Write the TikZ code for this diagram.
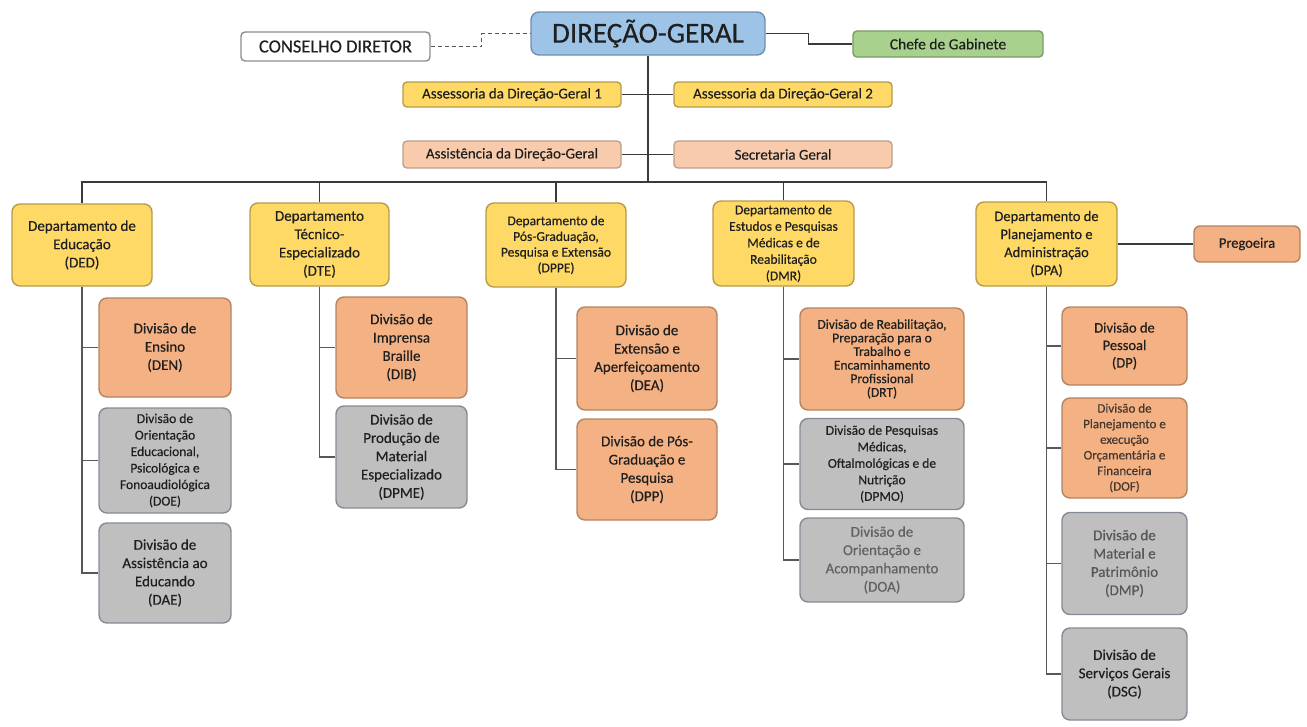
\documentclass[tikz,border=0pt]{standalone}
\usepackage{fontspec}
\setmainfont{Carlito}[FakeBold=0.35]
\definecolor{txt}{HTML}{1F1F1F}
\definecolor{ln}{HTML}{3A3A3A}
\definecolor{bluef}{HTML}{9DC3E6}\definecolor{blued}{HTML}{6F8FB0}
\definecolor{yelf}{HTML}{FFD966}\definecolor{yeld}{HTML}{B59B4A}
\definecolor{peaf}{HTML}{F8CBAD}\definecolor{pead}{HTML}{BE9F8C}
\definecolor{oraf}{HTML}{F4B183}\definecolor{orad}{HTML}{B38463}
\definecolor{grayf}{HTML}{BFBFBF}\definecolor{grayd}{HTML}{858B96}
\definecolor{grnf}{HTML}{A9D18E}\definecolor{grnd}{HTML}{789A63}
\definecolor{whd}{HTML}{8C8C8C}
\tikzset{
  box/.style={draw, rounded corners=8pt, line width=1.4pt, align=center, inner sep=1pt, text=txt},
  wh/.style 2 args={minimum width=#1pt, minimum height=#2pt},
  bluebox/.style={box, fill=bluef, draw=blued},
  yelbox/.style={box, fill=yelf, draw=yeld},
  peabox/.style={box, fill=peaf, draw=pead},
  orabox/.style={box, fill=oraf, draw=orad},
  graybox/.style={box, fill=grayf, draw=grayd},
  grnbox/.style={box, fill=grnf, draw=grnd, rounded corners=4pt},
  whbox/.style={box, fill=white, draw=whd, rounded corners=4pt},
  conn/.style={draw=ln, line width=1.3pt},
  fbig/.style={font=\fontsize{15}{18.3}\selectfont},
  fmid/.style={font=\fontsize{13.5}{16.5}\selectfont},
  fsml/.style={font=\fontsize{13.5}{13.6}\selectfont},
  fdof/.style={font=\fontsize{13}{15.6}\selectfont},
  fone/.style={font=\fontsize{15}{16}\selectfont},
}
\begin{document}
\begin{tikzpicture}[x=1pt,y=-1pt]
\useasboundingbox (0,0) rectangle (1307,726);
% top
\node[bluebox, wh={234}{43}, font=\fontsize{29}{31}\selectfont] (dg) at (648,33.5) {DIREÇÃO-GERAL};
\node[whbox, wh={189}{29}, font=\fontsize{18.5}{20}\selectfont] (cons) at (335.5,46.5) {CONSELHO DIRETOR};
\node[grnbox, wh={190}{26}, font=\fontsize{15.5}{17}\selectfont] (chefe) at (948,44) {Chefe de Gabinete};
\node[yelbox, wh={218}{25}, rounded corners=4pt, fone] (as1) at (512,94.5) {Assessoria da Direção-Geral 1};
\node[yelbox, wh={218}{25}, rounded corners=4pt, fone] (as2) at (783,94.5) {Assessoria da Direção-Geral 2};
\node[peabox, wh={218}{27}, rounded corners=4pt, fone] (asst) at (512,154.5) {Assistência da Direção-Geral};
\node[peabox, wh={218}{27}, rounded corners=4pt, fone] (sec) at (783,154.5) {Secretaria Geral};
% departments
\node[yelbox, wh={140}{82}, fbig] (ded) at (82,245) {Departamento de\\Educação\\(DED)};
\node[yelbox, wh={139}{83}, fbig] (dte) at (319.5,244.5) {Departamento\\Técnico-\\Especializado\\(DTE)};
\node[yelbox, wh={140}{84}, font=\fontsize{13.5}{15.7}\selectfont] (dppe) at (556,245) {Departamento de\\Pós-Graduação,\\Pesquisa e Extensão\\(DPPE)};
\node[yelbox, wh={141}{85}, fmid] (dmr) at (783.5,243.5) {Departamento de\\Estudos e Pesquisas\\Médicas e de\\Reabilitação\\(DMR)};
\node[yelbox, wh={141}{84}, font=\fontsize{14.5}{18}\selectfont] (dpa) at (1046.5,244) {Departamento de\\Planejamento e\\Administração\\(DPA)};
\node[orabox, wh={106}{36}, rounded corners=6pt, font=\fontsize{14.5}{16}\selectfont] (preg) at (1247,244) {Pregoeira};
% DED divisions
\node[orabox, wh={132}{99}, fbig] (den) at (165,347.5) {Divisão de\\Ensino\\(DEN)};
\node[graybox, wh={132}{105}, fmid] (doe) at (165,460.5) {Divisão de\\Orientação\\Educacional,\\Psicológica e\\Fonoaudiológica\\(DOE)};
\node[graybox, wh={132}{100}, fbig] (dae) at (165,573) {Divisão de\\Assistência ao\\Educando\\(DAE)};
% DTE divisions
\node[orabox, wh={131}{101}, fbig] (dib) at (401.5,347.5) {Divisão de\\Imprensa\\Braille\\(DIB)};
\node[graybox, wh={131}{102}, fbig] (dpme) at (401.5,457) {Divisão de\\Produção de\\Material\\Especializado\\(DPME)};
% DPPE divisions
\node[orabox, wh={140}{103}, fbig] (dea) at (647,358.5) {Divisão de\\Extensão e\\Aperfeiçoamento\\(DEA)};
\node[orabox, wh={140}{101}, fbig] (dpp) at (647,469.5) {Divisão de Pós-\\Graduação e\\Pesquisa\\(DPP)};
% DMR divisions
\node[orabox, wh={164}{102}, fsml] (drt) at (882,359) {Divisão de Reabilitação,\\Preparação para o\\Trabalho e\\Encaminhamento\\Profissional\\(DRT)};
\node[graybox, wh={164}{91}, fmid] (dpmo) at (882,464) {Divisão de Pesquisas\\Médicas,\\Oftalmológicas e de\\Nutrição\\(DPMO)};
\node[graybox, wh={164}{84}, fbig, text=txt!70] (doa) at (882,560) {Divisão de\\Orientação e\\Acompanhamento\\(DOA)};
% DPA divisions
\node[orabox, wh={125}{78}, font=\fontsize{14.5}{17.5}\selectfont] (dp) at (1124.5,346) {Divisão de\\Pessoal\\(DP)};
\node[orabox, wh={125}{100}, fdof, text=txt!75!orad] (dof) at (1124.5,448) {Divisão de\\Planejamento e\\execução\\Orçamentária e\\Financeira\\(DOF)};
\node[graybox, wh={125}{102}, fbig, text=txt!75] (dmp) at (1124.5,563.5) {Divisão de\\Material e\\Patrimônio\\(DMP)};
\node[graybox, wh={125}{92}, fbig] (dsg) at (1124.5,674) {Divisão de\\Serviços Gerais\\(DSG)};
% connectors top
\coordinate (bar) at (648,182);
\draw[conn, dash pattern=on 4pt off 3pt, draw=ln!85] (cons.east) -- ++(51,0) |- (dg.west);
\draw[conn] (dg.east) -- ++(43,0) |- (chefe.west);
\draw[conn] (dg.south) -- (bar);
\draw[conn] (as1.east) -- (as2.west);
\draw[conn] (asst.east) -- (sec.west);
\foreach \d in {ded,dte,dppe,dmr,dpa} {\draw[conn] (\d.north) |- (bar);}
\draw[conn] (dpa.east) -- (preg.west);
% division connectors
\foreach \p/\c in {ded/den,ded/doe,ded/dae,dte/dib,dte/dpme,dppe/dea,dppe/dpp,dmr/drt,dmr/dpmo,dmr/doa,dpa/dp,dpa/dof,dpa/dmp,dpa/dsg}
  {\draw[conn, draw=ln!85] (\p.south) |- (\c.west);}
\end{tikzpicture}
\end{document}
